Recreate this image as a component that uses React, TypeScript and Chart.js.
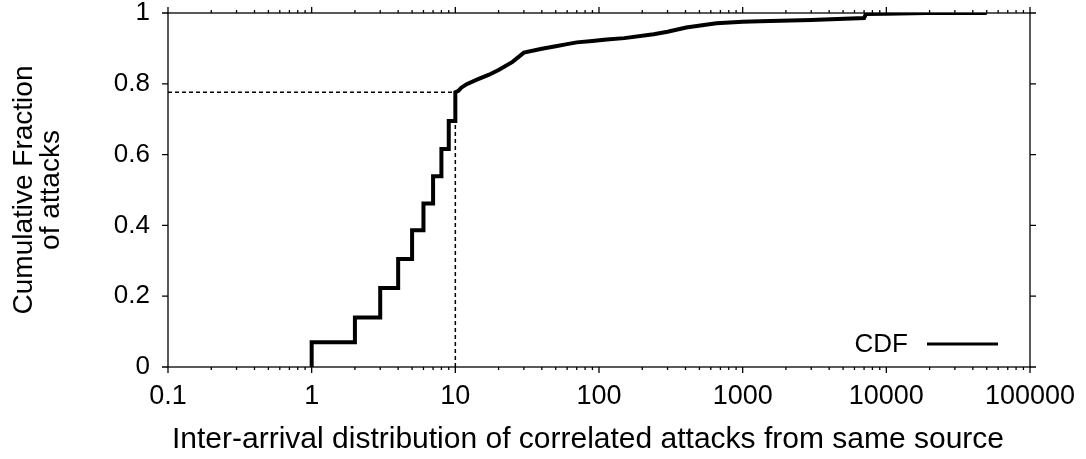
import React, { useEffect, useRef } from 'react';
import { Chart, registerables } from 'chart.js';

Chart.register(...registerables);

// ---- data ----
const stepX = [1, 2, 3, 4, 5, 6, 7, 8, 9, 10];
const stepY = [0.07, 0.14, 0.223, 0.305, 0.386, 0.462, 0.539, 0.616, 0.695, 0.776];
const tailX = [10.5, 11, 12, 14, 17, 20, 25, 30, 40, 50, 60, 70, 90, 113, 150, 240, 300, 405, 656, 1000, 1319, 3000, 7000, 7200, 10000, 19000, 50000];
const tailY = [0.78, 0.789, 0.799, 0.811, 0.825, 0.839, 0.862, 0.888, 0.899, 0.906, 0.912, 0.917, 0.921, 0.925, 0.929, 0.94, 0.947, 0.959, 0.971, 0.975, 0.977, 0.98, 0.986, 0.997, 0.998, 1.0, 1.0];
const markX = 10;
const markY = 0.776;
const xTickValues = [0.1, 1, 10, 100, 1000, 10000, 100000];
const xTickLabels = ['0.1', '1', '10', '100', '1000', '10000', '100000'];
const yTickValues = [0, 0.2, 0.4, 0.6, 0.8, 1];
const yTickLabels = ['0', '0.2', '0.4', '0.6', '0.8', '1'];
const seriesLabel = 'CDF';
const xTitle = 'Inter-arrival distribution of correlated attacks from same source';
const yTitle = ['Cumulative Fraction', 'of attacks'];

const FONT = '"Liberation Sans", Arial, Helvetica, sans-serif';

function buildCdf() {
  const pts: { x: number; y: number }[] = [{ x: stepX[0], y: 0 }];
  stepX.forEach((x, i) => {
    if (i > 0) pts.push({ x, y: stepY[i - 1] });
    pts.push({ x, y: stepY[i] });
  });
  tailX.forEach((x, i) => pts.push({ x, y: tailY[i] }));
  return pts;
}

const framePlugin = {
  id: 'frame',
  afterDraw(chart: any) {
    const { ctx, chartArea, scales } = chart;
    const { left, right, top, bottom } = chartArea;
    const x = scales.x;
    const y = scales.y;
    ctx.save();
    ctx.strokeStyle = '#000';
    ctx.lineWidth = 1.3;
    ctx.strokeRect(left, top, right - left, bottom - top);
    ctx.beginPath();
    xTickValues.forEach((v, i) => {
      const px = x.getPixelForValue(v);
      ctx.moveTo(px, bottom); ctx.lineTo(px, bottom + 6);
      ctx.moveTo(px, top); ctx.lineTo(px, top - 6);
      if (i < xTickValues.length - 1) {
        for (let m = 2; m < 10; m++) {
          const mp = x.getPixelForValue(v * m);
          ctx.moveTo(mp, bottom); ctx.lineTo(mp, bottom + 3);
          ctx.moveTo(mp, top); ctx.lineTo(mp, top - 3);
        }
      }
    });
    yTickValues.forEach((v) => {
      const py = y.getPixelForValue(v);
      ctx.moveTo(left, py); ctx.lineTo(left - 6, py);
      ctx.moveTo(right, py); ctx.lineTo(right + 6, py);
    });
    ctx.stroke();

    // key: text followed by the line sample
    ctx.fillStyle = '#000';
    ctx.font = `26px ${FONT}`;
    ctx.textAlign = 'right';
    ctx.textBaseline = 'middle';
    ctx.fillText(seriesLabel, right - 122, bottom - 22);
    ctx.beginPath();
    ctx.lineWidth = 3;
    ctx.moveTo(right - 103, bottom - 23);
    ctx.lineTo(right - 32, bottom - 23);
    ctx.stroke();

    // x axis title
    ctx.font = `30px ${FONT}`;
    ctx.textAlign = 'center';
    ctx.fillText(xTitle, 588, 440);
    ctx.restore();
  },
};

export default function App() {
  const ref = useRef<HTMLCanvasElement | null>(null);
  useEffect(() => {
    if (!ref.current) return;
    const chart = new Chart(ref.current, {
      type: 'line',
      data: {
        datasets: [
          { label: seriesLabel, data: buildCdf(), borderColor: '#000', borderWidth: 4, pointRadius: 0, tension: 0, fill: false, borderJoinStyle: 'miter' },
          { label: 'h', data: [{ x: xTickValues[0], y: markY }, { x: markX, y: markY }], borderColor: '#000', borderWidth: 1.5, borderDash: [4, 3], pointRadius: 0, fill: false },
          { label: 'v', data: [{ x: markX, y: 0 }, { x: markX, y: markY }], borderColor: '#000', borderWidth: 1.5, borderDash: [4, 3], pointRadius: 0, fill: false },
        ],
      },
      options: {
        responsive: false,
        animation: false,
        layout: { padding: { top: 13, right: 56, left: 0, bottom: 0 } },
        plugins: { legend: { display: false }, tooltip: { enabled: false } },
        scales: {
          x: {
            type: 'logarithmic', min: 0.1, max: 100000,
            afterBuildTicks: (s: any) => { s.ticks = xTickValues.map((v) => ({ value: v })); },
            afterFit: (s: any) => { s.height = 92; s.paddingLeft = 0; s.paddingRight = 0; },
            grid: { display: false, drawTicks: false, tickLength: 0 },
            border: { display: false },
            ticks: { autoSkip: false, maxRotation: 0, color: '#000', padding: 13, font: { family: FONT, size: 27 }, callback: (_v: any, i: number) => xTickLabels[i] },
            title: { display: false },
          },
          y: {
            type: 'linear', min: 0, max: 1,
            afterBuildTicks: (s: any) => { s.ticks = yTickValues.map((v) => ({ value: v })); },
            afterFit: (s: any) => { s.width = 168; s.paddingTop = 0; s.paddingBottom = 0; },
            grid: { display: false, drawTicks: false, tickLength: 0 },
            border: { display: false },
            ticks: { color: '#000', padding: 18, font: { family: FONT, size: 26 }, callback: (_v: any, i: number) => yTickLabels[i] },
            title: { display: true, text: yTitle, color: '#000', font: { family: FONT, size: 28, lineHeight: 0.97 }, padding: { top: 11, bottom: 0 } },
          },
        },
      },
      plugins: [framePlugin],
    });
    return () => chart.destroy();
  }, []);
  return (
    <div style={{ position: 'absolute', left: 0, top: 0, width: 1086, height: 459, background: '#fff' }}>
      <canvas ref={ref} width={1086} height={459} style={{ display: 'block' }} />
    </div>
  );
}
